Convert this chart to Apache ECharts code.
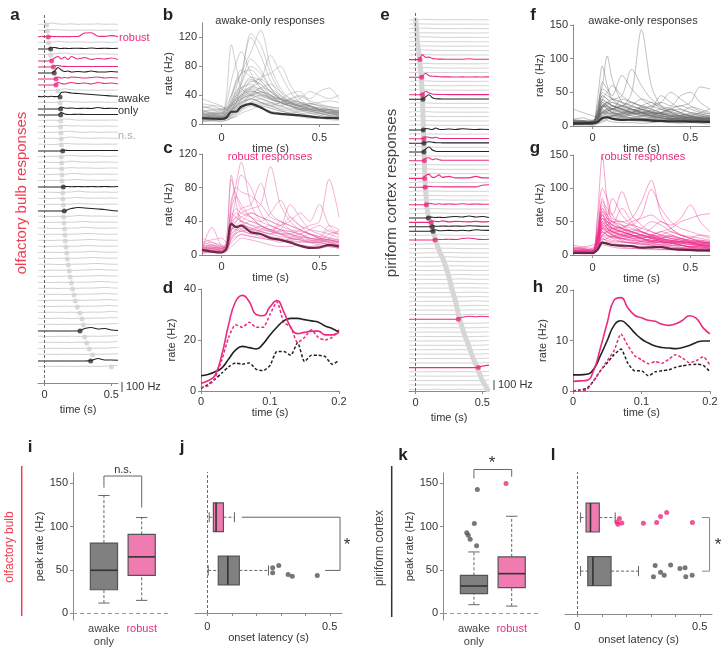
<!DOCTYPE html>
<html><head><meta charset="utf-8">
<script src="https://cdn.jsdelivr.net/npm/echarts@6/dist/echarts.min.js"></script>
<style>html,body{margin:0;padding:0;background:#fff}#c{width:728px;height:652px}</style>
</head><body><div id="c"></div>
<script>
// ---------------- DATA ----------------
// panel a (olfactory bulb, stacked responses)
const T_AG = [-0.05,0,0.05,0.1,0.15,0.2,0.25,0.3,0.35,0.4,0.45,0.5,0.55];
const T_AC = [-0.05,-0.025,0,0.025,0.05,0.075,0.1,0.125,0.15,0.175,0.2,0.25,0.3,0.35,0.4,0.45,0.5,0.55];
const A_GRAY_ROWS = [0,1,3,5,11,13,16,17,18,19,20,22,23,24,25,26,28,29,30,32,33,34,35,36,37,38,39,40,41,42,43,44,45,46,47,48,49,50,52,53,54,55,57];
const A_GRAY_LAT = [0.015,0.02,0.03,0.045,0.1,0.115,0.12,0.12,0.122,0.123,0.125,0.125,0.127,0.128,0.13,0.13,0.135,0.137,0.14,0.142,0.145,0.15,0.152,0.155,0.16,0.165,0.17,0.177,0.185,0.192,0.2,0.21,0.22,0.23,0.245,0.265,0.28,0.29,0.3,0.315,0.335,0.36,0.5];
const A_GRAY = [
[5,8,20,10,8,12,6,10,8,12,7,9,6],[6,5,15,12,9,7,10,8,11,6,9,7,8],[4,7,6,18,10,8,12,9,7,10,8,6,9],[7,5,9,15,20,10,8,11,7,9,12,8,6],
[5,6,7,10,22,14,9,8,10,7,9,8,10],[8,6,5,9,18,12,10,7,9,11,8,7,9],[6,7,8,6,20,15,8,10,7,9,8,10,7],[5,8,6,7,16,10,12,8,9,7,10,8,6],
[7,5,7,8,14,18,9,7,10,8,7,9,8],[6,6,8,5,12,20,11,8,7,9,10,7,8],[8,7,5,7,15,12,9,10,8,7,9,8,10],[5,6,7,6,10,16,10,8,9,11,7,8,6],
[7,8,6,5,9,18,12,9,7,8,10,9,7],[6,5,8,7,8,14,10,11,9,7,8,10,8],[8,6,5,8,7,16,13,8,7,10,9,7,9],[5,7,6,6,9,12,15,9,8,7,8,9,7],
[6,8,7,5,8,10,18,12,9,8,10,7,8],[7,5,6,8,6,11,16,10,7,9,8,10,6],[5,6,8,6,7,9,14,12,10,8,7,9,8],[8,7,5,7,6,8,15,13,9,10,8,7,9],
[6,5,7,6,8,7,12,16,10,8,9,8,7],[7,8,6,5,7,9,10,18,12,9,7,10,8],[5,6,8,7,6,8,9,15,14,10,8,7,9],[6,7,5,8,7,6,10,12,16,11,9,8,7],
[8,5,6,7,8,7,8,14,13,10,8,9,8],[5,7,7,6,5,8,9,11,17,12,9,7,8],[7,6,5,8,7,6,8,10,15,13,10,8,9],[6,8,7,5,6,7,9,9,14,15,11,8,7],
[5,6,8,7,8,6,7,10,12,16,12,9,8],[7,5,6,6,7,8,6,9,11,14,13,10,8],[6,7,5,8,6,7,8,8,10,15,14,9,7],[8,6,7,5,7,6,7,9,9,12,16,11,8],
[5,8,6,7,5,8,6,8,10,11,15,12,9],[6,5,7,8,6,7,8,7,9,10,14,13,8],[7,7,5,6,8,6,7,8,8,9,12,15,10],[5,6,8,7,6,8,6,7,9,8,11,16,11],
[8,5,6,8,7,5,8,6,8,10,9,14,12],[6,7,7,5,8,6,7,8,7,9,10,13,14],[7,6,5,7,6,8,6,7,8,7,9,11,15],[5,8,7,6,7,5,8,6,7,8,8,10,16],
[6,5,8,7,5,7,6,8,6,9,7,12,15],[8,7,6,5,8,6,7,5,8,7,8,10,14],[6,6,7,8,6,7,5,8,7,6,8,12,18]
];
const A_COL_ROWS = [2,4,6,7,8,9,10,12,14,15,21,27,31,51,56];
const A_COL_TYPE = ['r','a','r','r','a','r','r','a','a','a','a','a','a','a','a'];
const A_COL_LAT = [0.027,0.045,0.052,0.065,0.072,0.085,0.085,0.115,0.12,0.12,0.135,0.14,0.147,0.265,0.345];
const A_COL = [
[0,8,2,3,6,4,5,3,5,3,5,5,40,42,8,6,14,5],
[0,0,0,0,12,15,8,5,8,5,6,8,5,10,5,8,5,8],
[0,0,0,0,10,30,45,20,40,15,45,20,35,15,25,20,30,15],
[0,0,0,0,0,12,15,8,6,5,5,5,5,5,5,5,5,5],
[0,0,0,0,0,20,55,30,15,20,10,15,10,20,10,10,15,10],
[0,0,0,0,0,0,20,10,15,10,20,15,10,15,20,10,15,10],
[0,0,0,0,0,0,25,15,10,20,25,15,20,10,25,15,20,10],
[6,2,8,3,7,4,5,45,50,45,40,35,30,25,20,15,10,8],
[0,0,0,0,0,0,0,20,10,8,10,5,8,5,15,5,8,5],
[0,0,0,0,0,0,0,25,10,5,5,8,5,5,5,5,5,5],
[0,0,0,0,0,0,0,0,8,5,5,5,5,5,5,5,5,5],
[0,0,0,0,0,0,0,0,5,5,3,5,3,5,3,5,3,5],
[0,0,0,0,0,0,0,0,-3,15,25,35,30,25,20,15,5,0],
[0,0,0,0,0,0,0,0,0,0,0,0,25,35,20,25,10,5],
[0,0,0,0,0,0,0,0,0,0,0,0,0,5,25,10,10,8]
];

// panel e (piriform cortex, stacked responses)
const T_EG = [-0.05,0.05,0.15,0.25,0.35,0.45,0.55];
const T_EC = [-0.05,0,0.025,0.05,0.075,0.1,0.125,0.15,0.175,0.2,0.25,0.3,0.35,0.4,0.45,0.5,0.55];
const E_LAT = [0,0.003,0.006,0.008,0.01,0.013,0.018,0.022,0.026,0.03,0.033,0.036,0.039,0.042,0.044,0.046,0.048,0.05,0.051,0.052,
0.053,0.054,0.055,0.056,0.057,0.058,0.059,0.06,0.061,0.062,0.063,0.064,0.065,0.066,0.067,0.068,0.07,0.072,0.074,0.076,
0.078,0.08,0.083,0.087,0.092,0.1,0.11,0.12,0.13,0.14,0.15,0.16,0.17,0.185,0.2,0.215,0.225,0.235,0.245,0.255,
0.262,0.27,0.28,0.29,0.3,0.307,0.314,0.32,0.33,0.34,0.35,0.36,0.372,0.385,0.397,0.408,0.42,0.433,0.447,0.46,
0.473,0.487,0.5,0.52,0.54];
const E_COL_ROWS = [9,13,17,18,25,27,28,30,32,36,38,42,45,46,47,48,50,68,79];
const E_COL_TYPE = ['r','r','r','a','a','r','a','a','r','r','r','r','a','r','a','a','r','r','r'];
const E_COL_LAT = [0.032,0.045,0.05,0.055,0.057,0.062,0.062,0.062,0.065,0.067,0.07,0.08,0.095,0.117,0.125,0.13,0.145,0.32,0.47];
const E_COL = [
[0,0,0,50,22,25,10,8,5,5,3,4,3,8,3,4,3],
[0,0,0,10,40,15,10,8,5,3,3,2,3,2,3,2,3],
[0,0,0,5,35,20,8,5,3,3,2,2,2,2,2,2,2],
[0,0,0,0,25,45,15,5,3,2,2,2,2,2,2,2,2],
[0,0,0,0,15,10,5,20,8,5,10,5,12,8,5,8,5],
[0,0,0,0,20,15,8,15,5,3,3,3,3,3,3,3,3],
[0,0,0,0,10,15,10,5,5,3,3,3,3,3,3,3,3],
[0,0,0,0,30,50,20,8,5,5,5,5,5,5,5,5,5],
[0,0,0,0,25,30,10,20,10,5,5,5,5,5,5,5,5],
[0,0,0,0,30,40,10,15,35,10,20,5,5,5,20,5,5],
[0,0,0,0,0,8,5,5,5,3,3,3,3,3,3,20,25],
[0,0,0,0,0,15,10,5,10,5,8,5,10,5,8,5,5],
[0,0,0,0,0,10,8,5,8,5,10,15,10,20,10,15,5],
[0,0,0,0,0,0,15,10,8,15,5,10,8,5,10,5,8],
[0,0,0,0,0,0,10,5,5,8,5,8,5,10,8,5,5],
[0,0,0,0,0,0,5,15,5,5,8,5,10,5,15,10,8],
[0,0,0,0,0,0,0,10,5,5,8,5,15,20,10,5,8],
[0,0,0,0,0,0,0,0,0,0,0,0,20,30,25,30,25],
[0,0,0,0,0,0,0,0,0,0,0,0,0,0,0,15,25]
];
const E_GRAY = [
[2,6,3,2,3,2,3],[3,5,2,3,2,3,2],[2,7,3,2,2,3,2],[3,4,3,3,2,2,3],[2,8,4,2,3,2,2],[3,6,2,3,3,2,3],[2,5,3,2,2,3,2],[3,9,4,3,2,2,3],[2,6,3,2,3,3,2],
[3,7,2,3,2,2,3],[2,8,4,2,3,2,2],[3,5,3,3,2,3,3],
[2,9,3,2,2,2,3],[3,6,4,2,3,3,2],[2,7,3,3,2,2,3],
[3,8,3,2,3,2,2],[2,6,4,3,2,3,3],[3,9,3,2,2,2,2],[2,7,2,3,3,3,3],[3,5,4,2,2,2,2],[2,8,3,3,3,3,3],
[3,6,3,2,2,2,2],[2,9,4,3,3,3,3],[3,7,3,2,2,2,2],
[2,6,4,3,3,3,3],[3,8,3,2,2,2,2],[2,5,5,3,3,3,3],[3,7,4,2,2,2,2],
[2,6,5,3,3,3,3],[3,5,6,2,2,2,2],[2,4,7,3,3,3,3],[3,4,6,2,2,2,2],[2,3,7,3,3,3,3],[3,2,8,4,2,2,2],
[2,3,6,5,3,3,3],[3,2,5,6,2,2,2],[2,3,4,7,3,3,3],[3,2,3,8,2,2,2],[2,3,2,7,4,3,3],[3,2,3,6,5,2,2],[2,3,2,5,6,3,3],[3,2,3,4,7,2,2],
[2,3,2,3,8,3,3],[3,2,3,2,7,4,2],[2,3,2,3,6,5,3],[3,2,3,2,5,6,2],[2,3,2,3,4,7,3],[3,2,3,2,3,8,2],[2,3,2,3,2,7,4],[3,2,3,2,3,6,5],[2,3,2,3,2,5,6],
[3,2,3,2,3,4,7],[2,3,2,3,2,3,8],[3,2,3,2,3,2,7],[2,3,2,3,2,3,6],[3,2,3,2,3,2,8],[2,3,2,3,2,3,7],[3,2,3,2,3,2,6],[2,3,2,3,2,3,8],[3,2,3,2,3,2,7],[2,3,2,3,2,3,6],
[3,2,3,2,3,2,7],[2,3,2,3,2,3,8],[3,2,3,2,3,2,6],[2,3,2,3,2,3,5],[3,2,3,2,3,2,4]
];

// panels b, c, f, g (overlaid responses)
const T_R = [-0.1,-0.05,0,0.025,0.05,0.075,0.1,0.15,0.2,0.25,0.3,0.35,0.4,0.45,0.5,0.55,0.6];
const B_TRACES = [
[10,15,12,40,110,80,50,40,30,25,20,15,18,20,15,12,10],[15,10,8,20,40,60,70,120,95,60,40,30,25,20,18,15,12],
[8,12,10,15,30,50,70,100,130,80,50,35,30,25,20,20,15],[12,10,15,20,25,40,60,125,110,70,45,30,25,25,20,15,18],
[10,8,12,30,60,85,100,70,50,40,30,25,20,18,15,15,12],[8,10,12,15,20,30,40,50,60,95,70,45,30,25,20,18,15],
[15,12,10,12,20,25,35,50,65,70,80,55,35,25,20,15,12],[20,15,18,25,40,55,70,75,60,45,35,30,28,25,22,20,18],
[10,12,8,15,35,60,75,65,50,35,30,25,20,22,18,15,12],[12,15,10,12,25,45,55,80,70,50,35,30,25,20,18,20,15],
[15,20,18,15,20,25,30,35,30,25,30,35,40,35,45,50,35],[20,18,22,20,25,30,35,40,35,30,25,30,35,45,40,35,40],
[10,12,15,12,18,25,30,35,40,38,35,42,45,30,25,20,18],[35,30,25,20,25,30,35,40,45,35,30,25,20,25,20,18,15],
[25,20,15,18,30,45,50,55,45,40,35,30,25,28,25,22,20],[5,8,10,12,20,30,40,45,40,35,30,25,20,18,15,12,10],
[8,5,6,10,15,25,35,60,55,40,30,25,20,15,12,10,8],[12,10,8,8,12,20,30,40,50,55,45,35,30,25,20,15,12],
[5,6,5,8,10,15,20,30,35,30,25,20,15,12,10,8,8],[18,15,20,22,30,40,45,50,45,38,30,28,25,22,20,18,15],
[3,4,3,5,8,12,18,25,22,18,15,12,10,8,8,6,5],[10,8,12,10,15,18,22,30,28,25,20,18,15,15,12,10,10],
[22,25,20,18,25,35,45,65,60,45,35,25,22,20,18,15,18],[6,8,7,9,12,20,25,35,30,28,25,22,20,18,16,15,14],
[14,12,15,14,18,22,28,40,35,30,28,25,22,20,18,16,15],[4,5,6,5,8,10,15,20,25,22,18,15,12,10,8,7,6],
[9,11,8,12,18,30,55,90,75,50,35,28,22,18,15,12,10],[16,14,12,15,22,35,48,58,62,50,40,32,28,25,22,20,18],
[12,14,10,12,20,28,38,52,48,40,32,28,24,22,20,18,16],[7,9,8,10,16,24,32,45,42,36,30,26,22,20,18,16,14],
[18,16,14,16,22,30,42,48,40,34,30,34,38,32,28,24,22],[9,7,10,11,14,22,28,38,44,40,34,28,24,20,18,16,14],
[24,22,20,22,28,34,40,46,42,36,34,32,30,28,26,24,22],[6,7,6,8,12,18,26,34,30,26,22,20,18,16,14,13,12],
[15,13,16,18,26,38,50,62,55,44,36,30,26,24,22,20,18],[11,10,9,12,18,26,34,42,50,46,38,30,26,22,20,18,16],
[28,26,24,22,28,34,38,42,38,34,30,28,26,28,30,32,30],[4,5,4,6,9,14,20,28,26,22,18,15,12,10,9,8,7]
];
const B_MEAN = [8,7.5,7,9,17,17,24,28,23,16,14,13,12,10.5,9,8.5,8];
const C_TRACES = [
[8,10,5,20,95,60,40,30,25,20,18,15,12,10,12,10,8],[5,6,4,15,90,70,55,45,35,30,25,20,18,15,15,12,10],
[10,8,6,10,60,85,110,60,40,35,30,28,25,20,18,15,12],[4,5,3,8,40,70,95,80,50,35,30,25,20,15,12,10,12],
[12,15,10,12,50,45,55,60,85,50,40,35,30,25,20,18,15],[6,8,5,8,30,40,50,55,60,105,60,40,30,25,20,18,15],
[15,12,8,10,45,55,50,45,40,50,65,45,35,30,28,25,20],[5,33,10,8,35,40,45,50,45,40,35,60,45,30,25,20,18],
[8,6,5,6,25,30,35,40,35,30,35,40,50,40,60,35,25],[10,12,8,10,30,35,40,35,30,28,25,25,30,35,40,90,45],
[3,5,4,6,20,25,30,28,25,22,20,18,20,25,22,35,30],[6,4,5,8,55,70,60,45,35,28,25,20,18,15,15,12,10],
[12,10,8,12,25,30,35,32,28,25,40,30,25,20,18,25,28],[4,6,3,5,15,20,25,22,20,18,15,20,25,18,15,20,30],
[8,12,10,8,40,50,45,40,35,30,28,25,22,20,18,15,12],[15,18,20,15,35,45,40,50,45,40,35,30,28,25,22,20,18],
[2,3,2,4,10,15,20,18,15,12,10,10,12,10,8,10,8],[20,15,12,10,65,80,75,70,60,45,40,35,30,25,20,18,15],
[6,8,10,8,20,28,32,30,28,25,30,45,35,25,20,30,22],[10,5,8,6,30,35,30,25,30,35,30,28,25,30,35,28,25],
[5,7,6,7,28,34,36,32,28,25,22,20,18,17,16,15,14],[9,8,7,9,38,44,40,36,32,28,25,22,20,18,17,16,15],
[3,4,5,6,18,22,24,22,20,18,17,16,15,16,18,17,16],[7,9,8,8,32,30,28,30,34,30,26,24,22,20,19,18,17],
[4,3,4,5,22,26,28,25,22,20,18,17,16,15,14,13,12]
];
const C_MEAN = [6,4,3,8,37,33,35,27,25,20,18,15,11,8.5,9,12,10];
const F_TRACES = [
[5,4,3,30,60,104,70,35,25,20,15,12,10,10,8,8,6],[4,6,5,40,89,60,40,30,25,20,18,15,12,10,10,8,8],
[8,5,6,20,45,40,35,30,50,143,60,30,20,15,12,10,8],[3,4,3,25,55,50,40,45,84,60,40,30,25,20,15,12,10],
[6,8,5,20,65,55,45,75,55,40,30,25,20,18,15,12,10],[10,8,6,15,40,50,60,45,35,30,28,35,50,40,30,25,20],
[5,7,4,10,30,35,40,35,30,25,30,35,30,45,50,35,25],[4,3,5,8,20,25,30,28,25,20,22,25,28,30,35,58,55],
[25,20,15,12,30,35,30,25,22,20,18,15,12,10,10,12,15],[6,5,4,15,35,30,25,40,35,30,25,20,18,15,15,12,10],
[3,5,4,10,25,35,30,25,20,18,25,45,35,25,20,18,15],[8,6,7,12,30,25,20,18,30,40,35,28,22,18,15,20,25],
[2,3,2,8,20,15,12,10,8,8,10,8,7,6,6,5,5],[4,3,4,6,15,18,20,15,12,10,12,15,12,10,8,10,12],
[7,8,6,10,25,20,18,15,20,25,20,18,15,12,14,15,12],[3,2,3,5,10,12,10,8,8,7,6,8,10,8,7,6,5],
[5,6,5,20,40,35,30,25,20,15,12,10,10,8,8,7,6],[10,12,8,15,30,28,25,30,35,28,22,20,25,30,25,20,18],
[2,2,3,4,8,10,15,12,10,8,10,12,10,8,7,8,6],[6,4,5,15,50,45,40,35,30,25,20,18,15,12,10,10,8],
[4,5,3,8,18,22,25,30,28,25,20,18,22,25,20,18,15],[3,4,4,6,12,15,14,12,18,20,15,12,10,15,18,15,12],
[8,7,9,10,20,18,16,14,12,15,18,20,25,20,15,12,10],[1,2,1,3,6,8,6,5,5,4,5,6,5,4,5,4,3],
[5,3,4,12,35,30,25,22,20,18,15,12,10,12,10,8,8],[3,4,5,6,10,12,15,18,22,28,25,20,18,15,12,14,12],
[6,5,6,18,45,40,30,25,20,30,35,25,20,15,12,10,10],[2,3,2,5,15,20,25,20,15,12,10,8,8,10,12,10,8],
[4,6,4,10,22,25,20,18,25,20,15,20,25,20,28,22,18],[9,7,8,12,28,32,35,30,25,22,20,18,15,12,10,10,12],
[5,6,5,14,32,28,24,20,18,16,14,12,11,10,9,8,8],[3,3,4,8,18,22,26,24,20,18,16,15,14,13,12,11,10],
[7,6,7,16,38,34,30,26,24,22,20,18,16,14,13,12,11],[2,3,3,6,12,14,16,14,12,11,10,9,9,8,8,7,7],
[6,5,5,12,28,30,26,22,20,24,22,18,16,15,14,13,12],[4,4,5,10,22,20,18,16,18,20,18,16,14,16,18,16,14],
[8,7,6,14,30,26,22,20,18,16,15,14,13,12,12,11,10],[3,4,3,9,20,24,20,17,15,14,13,12,11,11,10,10,9]
];
const F_MEAN = [4,4,4.5,6,12,13,11,9,9.5,9.5,8,7.5,7,7,6.5,6.5,6];
const G_TRACES = [
[5,3,4,60,148,80,50,40,30,25,20,18,15,12,10,10,8],[8,6,5,50,100,85,60,45,35,30,25,20,18,15,12,12,10],
[4,5,6,40,80,70,60,95,60,45,35,30,25,20,18,15,12],[10,8,6,30,70,60,50,50,55,80,112,60,40,30,25,20,18],
[6,5,4,35,75,65,55,50,45,60,98,70,50,40,35,30,25],[3,4,3,25,65,60,85,60,45,35,30,28,25,22,20,18,15],
[12,10,8,20,55,50,45,40,50,55,60,50,45,55,75,50,35],[5,6,5,20,50,55,50,45,40,35,30,35,40,50,55,60,62],
[15,12,10,18,45,40,35,30,28,30,40,50,40,30,25,20,18],[3,2,3,25,60,45,40,35,30,25,22,20,18,15,12,10,10],
[8,10,6,22,45,50,40,35,30,25,20,25,30,25,20,22,20],[4,3,5,15,40,35,30,25,28,30,25,20,18,15,12,15,12],
[6,8,5,30,55,45,35,30,25,20,18,15,12,10,10,8,8],[2,3,2,12,35,30,28,25,22,20,18,15,20,25,20,15,12],
[10,12,15,20,40,45,50,40,35,30,28,25,22,20,18,15,15],[3,4,3,18,50,40,30,25,20,18,15,12,10,10,8,8,6],
[5,4,6,15,30,35,32,30,28,25,30,35,30,25,22,20,18],[7,6,5,25,65,55,45,70,50,35,28,22,18,15,12,12,10],
[2,2,3,10,25,20,18,15,12,10,10,8,8,7,6,6,5],[6,5,4,20,45,40,35,30,35,40,50,45,35,30,25,22,20],
[4,6,5,15,35,30,25,20,18,20,25,30,35,30,28,25,22],[9,8,10,25,60,50,40,35,30,25,20,18,15,15,12,12,10],
[3,3,2,8,20,18,15,12,10,10,12,10,9,8,7,7,6],[5,7,6,30,85,60,45,40,35,30,25,22,20,18,15,14,12],
[2,4,3,12,30,35,40,35,30,25,22,20,18,20,25,30,28],[6,5,6,20,40,38,35,30,25,22,20,25,28,22,18,15,14],
[4,3,4,10,22,25,28,22,18,15,18,20,18,15,12,12,10],[11,9,8,22,50,45,40,42,45,40,35,30,28,25,22,20,18],
[3,2,2,6,15,14,12,10,10,9,8,8,8,7,7,6,6],[5,6,4,18,42,35,30,28,32,35,30,25,20,18,16,15,14],
[7,5,6,28,70,55,45,40,35,30,26,22,20,18,16,15,14],[2,3,2,9,28,25,22,20,18,16,14,13,12,11,10,10,9],
[4,5,4,20,48,42,36,32,30,28,26,24,22,20,18,16,15],[6,4,5,16,38,34,30,28,26,24,22,21,20,19,18,17,16],
[3,3,4,12,30,28,26,24,22,21,20,19,18,17,16,15,14],[5,6,5,22,55,46,38,34,30,27,25,23,21,20,19,18,17],
[2,3,2,10,24,22,20,19,18,17,16,15,14,14,13,13,12],[7,6,7,18,42,38,34,36,38,34,30,27,25,23,21,20,19],
[4,4,3,14,34,30,27,25,24,26,28,25,22,20,19,18,17],[6,5,6,24,62,50,42,38,34,30,27,24,22,20,19,18,17]
];
const G_MEAN = [3,3,3,8,18.5,17,15,14,13.5,11,11.5,12,9,8,7.5,7,7];

// panels d, h (mean responses, 0-0.2 s)
const T_D = [0,0.01,0.02,0.03,0.04,0.05,0.06,0.07,0.08,0.09,0.1,0.11,0.12,0.13,0.14,0.15,0.16,0.17,0.18,0.19,0.2];
const D_ROB_SOLID = [3,4,6,14,26,35,37.5,35,30,29.5,33,35.5,31,25,22.5,23,23.5,23.5,22,22,23];
const D_ROB_DASH  = [1.3,2,5,12,21,26,25,27,25,25,30,35,27,25,19,21,24,21,20,21,24];
const D_AWK_SOLID = [6,6.5,7.5,9,12.5,16,17.5,17,16.5,18.5,22,25,27.5,28.5,28.5,28,27.5,27,25.5,24.5,23];
const D_AWK_DASH  = [1,2.5,4.5,7,9.5,11,10.5,11,8.5,8,10,15.5,15.5,14,19,11.5,14,14,13.5,10.5,12];
const H_ROB_SOLID = [1.9,2,2.1,4,8.5,13.5,18,18.5,16.5,15,14.5,14,13.8,13.2,13,13.3,14,14.9,14.4,12.5,11.3];
const H_AWK_SOLID = [3.2,3.2,3.3,4.3,7,10,13,13.9,13,11.5,10.3,9.5,8.9,8.6,8.5,8.4,8.6,9,9.6,9.9,9.9];
const H_ROB_DASH  = [0,0,0.2,2,4,6,8,11.3,9,7,6.2,5.4,5.8,5.5,6.3,7.2,6.5,5.6,6,6.8,5.1];
const H_AWK_DASH  = [0,0.2,0.5,2,4,5.6,7.2,8.3,5.5,4,4,3,3.8,4,4.2,4.7,5,5.2,5.3,5.1,3.8];

// panels i-l (box plots): [position, whiskerLow, Q1, median, Q3, whiskerHigh]
const I_BOX = [[1,11.6,27,49.5,81,136],[2,14.7,43.7,65,91,110.5]];
const K_BOX = [[1,9.7,22.4,31.3,43.7,70.7],[2,8.1,29.4,45.6,65,112]];
const K_OUT_AWAKE = [[1.09,143],[1.01,103.6],[0.81,93],[0.85,90],[0.9,85.5],[1.07,78]];
const K_OUT_ROBUST = [[1.85,150]];
const J_BOX = [[2,0.008,0.025,0.036,0.066,0.111],[1,0.004,0.045,0.084,0.131,0.25]];
const J_OUT_AWAKE = [[0.267,1.05],[0.267,0.956],[0.292,1.094],[0.33,0.925],[0.347,0.893],[0.449,0.906]];
const L_BOX = [[2,0.0135,0.036,0.054,0.09,0.155],[1,0.0135,0.043,0.064,0.138,0.25]];
const L_OUT_ROBUST = [[0.162,1.918],[0.172,1.981],[0.166,1.874],[0.182,1.9],[0.27,1.893],[0.324,1.906],[0.34,2.019],[0.365,2.094],[0.47,1.906]];
const L_OUT_AWAKE = [[0.311,0.893],[0.318,1.107],[0.34,0.981],[0.355,0.925],[0.381,1.113],[0.419,1.05],[0.44,1.063],[0.443,0.893],[0.469,0.925]];
const I_BRACKET = [[1,145],[1,158.5],[2,158.5],[2,122]];
const K_BRACKET = [[1,155.8],[1,166],[2,166],[2,157.7]];
const J_BRACKET = [[0.141,2],[0.542,2],[0.542,1],[0.481,1]];
const L_BRACKET = [[0.509,2],[0.54,2],[0.54,1],[0.509,1]];

// ---------------- STYLE / LAYOUT ----------------
const FONT = 'Liberation Sans, Arial, Helvetica, sans-serif';
const PINK = '#ec2a80';
const BLACK = '#222';
const RED = '#ee3d50';
const ROW_A = 60, ROW_E = 44;   // Hz per stacked row (10 Hz per pixel)

const grids = [
  {left:38, top:13, width:80, height:370},
  {left:202, top:23, width:137, height:101},
  {left:202, top:154, width:137, height:101},
  {left:201, top:289, width:138, height:102},
  {left:409, top:13, width:80, height:378},
  {left:573, top:25, width:137, height:101},
  {left:573, top:155, width:137, height:100},
  {left:573, top:290, width:137, height:101},
  {left:73, top:473, width:97, height:147},
  {left:195, top:472, width:147, height:141},
  {left:443, top:473, width:97, height:147},
  {left:565, top:472, width:147, height:142}
];
const AX = '#8a8a8a';
function xAx(gi, min, max, ticks, labels, o) {
  o = o || {};
  return {
    type:'value', gridIndex:gi, min, max, position:'bottom',
    axisLine:{show:o.noLine?false:true, onZero:false, lineStyle:{color:AX, width:1}},
    axisTick:{show:!o.noLine, length:3, customValues:ticks, lineStyle:{color:AX}},
    axisLabel:{show:true, customValues:labels, margin:o.margin==null?6:o.margin, color:'#333', fontSize:11, fontFamily:FONT,
      formatter:o.fmt, rich:o.rich},
    splitLine:{show:false},
    name:o.name||'', nameLocation:'middle', nameGap:o.nameGap||10,
    nameTextStyle:{color:'#333', fontSize:11, fontFamily:FONT}
  };
}
function yAx(gi, min, max, ticks, o) {
  o = o || {};
  if (o.hide) return {type:'value', gridIndex:gi, min, max, show:false, splitLine:{show:false}};
  return {
    type:'value', gridIndex:gi, min, max,
    axisLine:{show:true, onZero:false, lineStyle:{color:AX, width:1}},
    axisTick:{show:true, length:3, customValues:ticks, lineStyle:{color:AX}},
    axisLabel:{customValues:ticks, margin:5, color:'#333', fontSize:11, fontFamily:FONT},
    splitLine:{show:false},
    name:o.name||'', nameLocation:'middle', nameGap:o.nameGap||24,
    nameTextStyle:{color:'#333', fontSize:11, fontFamily:FONT}
  };
}
const catRich = {a:{color:'#444', fontSize:11, lineHeight:13, fontFamily:FONT}, r:{color:PINK, fontSize:11, lineHeight:13, fontFamily:FONT}};
const catFmt = v => v === 1 ? '{a|awake}\n{a|only}' : '{r|robust}';
const xAxes = [
  xAx(0,-0.05,0.55,[0,0.5],[0,0.5],{name:'time (s)', nameGap:20, margin:6}),
  xAx(1,-0.1,0.6,[0,0.5],[0,0.5],{name:'time (s)', nameGap:8, margin:8}),
  xAx(2,-0.1,0.6,[0,0.5],[0,0.5],{name:'time (s)', nameGap:6, margin:6}),
  xAx(3,0,0.2,[0,0.1,0.2],[0,0.1,0.2],{name:'time (s)', nameGap:15, margin:5}),
  xAx(4,-0.05,0.55,[0,0.5],[0,0.5],{name:'time (s)', nameGap:18, margin:6}),
  xAx(5,-0.1,0.6,[0,0.5],[0,0.5],{name:'time (s)', nameGap:6, margin:6}),
  xAx(6,-0.1,0.6,[0,0.5],[0,0.5],{name:'time (s)', nameGap:7, margin:7}),
  xAx(7,0,0.2,[0,0.1,0.2],[0,0.1,0.2],{name:'time (s)', nameGap:15, margin:5}),
  xAx(8,0.18,2.75,[],[1,2],{noLine:true, margin:2, fmt:catFmt, rich:catRich}),
  xAx(9,-0.05,0.55,[0,0.1,0.2,0.3,0.4,0.5],[0,0.5],{name:'onset latency (s)', nameGap:19, margin:8}),
  xAx(10,0.18,2.75,[],[1,2],{noLine:true, margin:2, fmt:catFmt, rich:catRich}),
  xAx(11,-0.05,0.55,[0,0.1,0.2,0.3,0.4,0.5],[0,0.5],{name:'onset latency (s)', nameGap:20, margin:7})
];
const yAxes = [
  yAx(0,-3580,120,[],{hide:true}),
  yAx(1,0,140,[0,40,80,120],{name:'rate (Hz)', nameGap:23}),
  yAx(2,0,120,[0,40,80,120],{name:'rate (Hz)', nameGap:24}),
  yAx(3,0,40,[0,20,40],{name:'rate (Hz)', nameGap:24}),
  yAx(4,-3710,70,[],{hide:true}),
  yAx(5,0,150,[0,50,100,150],{name:'rate (Hz)', nameGap:25}),
  yAx(6,0,150,[0,50,100,150],{name:'rate (Hz)', nameGap:25}),
  yAx(7,0,20,[0,10,20],{name:'rate (Hz)', nameGap:25}),
  yAx(8,-8,162,[0,50,100,150],{name:'peak rate (Hz)', nameGap:28}),
  yAx(9,0.2,2.85,[],{hide:true}),
  yAx(10,-8,162,[0,50,100,150],{name:'peak rate (Hz)', nameGap:28}),
  yAx(11,0.2,2.85,[],{hide:true})
];

// ---------------- SERIES ----------------
const series = [];
const zip = (T, V, off) => T.map((t,k)=>[t, V[k] + (off||0)]);
function addLine(gi, data, color, width, z, extra) {
  series.push(Object.assign({type:'line', xAxisIndex:gi, yAxisIndex:gi, data, symbol:'none', showSymbol:false,
    smooth:0.3, lineStyle:{color, width}, z:z||2, silent:true, animation:false}, extra||{}));
}
function addDots(gi, data, color, size, z, extra) {
  series.push(Object.assign({type:'scatter', xAxisIndex:gi, yAxisIndex:gi, data, symbolSize:size,
    itemStyle:{color}, z:z||5, silent:true, animation:false, clip:false}, extra||{}));
}
const vZeroLine = {silent:true, symbol:'none', label:{show:false}, animation:false,
  lineStyle:{color:'#6a6a6a', type:[3,2], width:1}, data:[{xAxis:0}]};
const hZeroLine = {silent:true, symbol:'none', label:{show:false}, animation:false,
  lineStyle:{color:'#9a9a9a', type:[4,3], width:1}, data:[{yAxis:0}]};
const pick = (rows, lat, types, off, want) =>
  rows.map((r,j)=>[lat[j], -r*off, types[j]]).filter(d=>d[2]===want).map(d=>[d[0],d[1]]);

// panel a
A_GRAY_ROWS.forEach((r,j)=> addLine(0, zip(T_AG, A_GRAY[j], -r*ROW_A), '#c4c4c4', 0.8, 1,
  j===0 ? {markLine:vZeroLine} : {}));
addDots(0, A_GRAY_ROWS.map((r,j)=>[A_GRAY_LAT[j], -r*ROW_A]), '#cfcfcf', 5, 2);
A_COL_ROWS.forEach((r,j)=> addLine(0, zip(T_AC, A_COL[j], -r*ROW_A), A_COL_TYPE[j]==='r'?PINK:BLACK, 1.1, 3));
addDots(0, pick(A_COL_ROWS, A_COL_LAT, A_COL_TYPE, ROW_A, 'r'), PINK, 5, 6);
addDots(0, pick(A_COL_ROWS, A_COL_LAT, A_COL_TYPE, ROW_A, 'a'), '#333', 5, 6);

// panel e
const E_GRAY_ROWS = [];
for (let r=0; r<E_LAT.length; r++) if (E_COL_ROWS.indexOf(r) < 0) E_GRAY_ROWS.push(r);
E_GRAY_ROWS.forEach((r,j)=> addLine(4, zip(T_EG, E_GRAY[j], -r*ROW_E), '#c8c8c8', 0.8, 1,
  j===0 ? {markLine:vZeroLine} : {}));
addLine(4, E_LAT.map((t,r)=>[t, -r*ROW_E]), '#d6d6d6', 5, 2, {smooth:false, lineStyle:{color:'#d6d6d6', width:5, cap:'round', join:'round'}});
E_COL_ROWS.forEach((r,j)=> addLine(4, zip(T_EC, E_COL[j], -r*ROW_E), E_COL_TYPE[j]==='r'?PINK:BLACK, 1.1, 3));
addDots(4, pick(E_COL_ROWS, E_COL_LAT, E_COL_TYPE, ROW_E, 'r'), PINK, 5, 6);
addDots(4, pick(E_COL_ROWS, E_COL_LAT, E_COL_TYPE, ROW_E, 'a'), '#333', 5, 6);

// panels b, c, f, g
B_TRACES.forEach(v=> addLine(1, zip(T_R, v), 'rgba(140,140,140,0.5)', 0.8, 1));
addLine(1, zip(T_R, B_MEAN), '#363636', 2.2, 3);
C_TRACES.forEach(v=> addLine(2, zip(T_R, v), 'rgba(228,95,165,0.6)', 0.8, 1));
addLine(2, zip(T_R, C_MEAN), '#6e2a48', 2.2, 3);
F_TRACES.forEach(v=> addLine(5, zip(T_R, v), 'rgba(100,100,100,0.5)', 0.8, 1));
addLine(5, zip(T_R, F_MEAN), '#333', 2.2, 3);
G_TRACES.forEach(v=> addLine(6, zip(T_R, v), 'rgba(236,45,140,0.55)', 0.8, 1));
addLine(6, zip(T_R, G_MEAN), '#5e2a45', 2.2, 3);

// panels d, h
const dash = [3,2];
addLine(3, zip(T_D, D_AWK_DASH), BLACK, 1.5, 2, {smooth:0.2, lineStyle:{color:BLACK, width:1.5, type:dash}});
addLine(3, zip(T_D, D_ROB_DASH), PINK, 1.5, 2, {smooth:0.2, lineStyle:{color:PINK, width:1.5, type:dash}});
addLine(3, zip(T_D, D_AWK_SOLID), BLACK, 1.6, 3, {smooth:0.5});
addLine(3, zip(T_D, D_ROB_SOLID), PINK, 1.6, 3, {smooth:0.5});
addLine(7, zip(T_D, H_AWK_DASH), BLACK, 1.5, 2, {smooth:0.2, lineStyle:{color:BLACK, width:1.5, type:dash}});
addLine(7, zip(T_D, H_ROB_DASH), PINK, 1.5, 2, {smooth:0.2, lineStyle:{color:PINK, width:1.5, type:dash}});
addLine(7, zip(T_D, H_AWK_SOLID), BLACK, 1.6, 3, {smooth:0.5});
addLine(7, zip(T_D, H_ROB_SOLID), PINK, 1.6, 3, {smooth:0.5});

// box plots
const FILL_AWAKE = '#808080', FILL_ROBUST = '#f07bb0';
function boxRender(horizontal, halfBox, halfCap) {
  return function(params, api) {
    const pos = api.value(0);
    const vals = [1,2,3,4,5].map(i=>api.value(i));
    const c = v => horizontal ? api.coord([v, pos]) : api.coord([pos, v]);
    const P = vals.map(c);
    const sz = horizontal ? api.size([0, halfBox])[1] : api.size([halfBox, 0])[0];
    const cz = horizontal ? api.size([0, halfCap])[1] : api.size([halfCap, 0])[0];
    const fill = pos === 1 ? FILL_AWAKE : FILL_ROBUST;
    const wstyle = {stroke:'#666', lineWidth:1, lineDash:[3,2]};
    const cstyle = {stroke:'#666', lineWidth:1};
    const ch = [];
    if (!horizontal) {
      const x = P[2][0];
      ch.push({type:'line', shape:{x1:x,y1:P[0][1],x2:x,y2:P[1][1]}, style:wstyle});
      ch.push({type:'line', shape:{x1:x,y1:P[3][1],x2:x,y2:P[4][1]}, style:wstyle});
      ch.push({type:'line', shape:{x1:x-cz,y1:P[0][1],x2:x+cz,y2:P[0][1]}, style:cstyle});
      ch.push({type:'line', shape:{x1:x-cz,y1:P[4][1],x2:x+cz,y2:P[4][1]}, style:cstyle});
      ch.push({type:'rect', shape:{x:x-sz,y:P[3][1],width:2*sz,height:P[1][1]-P[3][1]}, style:{fill, stroke:'#555', lineWidth:1.2}});
      ch.push({type:'line', shape:{x1:x-sz,y1:P[2][1],x2:x+sz,y2:P[2][1]}, style:{stroke:'#333', lineWidth:1.6}});
    } else {
      const y = P[2][1];
      ch.push({type:'line', shape:{x1:P[0][0],y1:y,x2:P[1][0],y2:y}, style:wstyle});
      ch.push({type:'line', shape:{x1:P[3][0],y1:y,x2:P[4][0],y2:y}, style:wstyle});
      ch.push({type:'line', shape:{x1:P[0][0],y1:y-cz,x2:P[0][0],y2:y+cz}, style:cstyle});
      ch.push({type:'line', shape:{x1:P[4][0],y1:y-cz,x2:P[4][0],y2:y+cz}, style:cstyle});
      ch.push({type:'rect', shape:{x:P[1][0],y:y-sz,width:P[3][0]-P[1][0],height:2*sz}, style:{fill, stroke:'#555', lineWidth:1.2}});
      ch.push({type:'line', shape:{x1:P[2][0],y1:y-sz,x2:P[2][0],y2:y+sz}, style:{stroke:'#333', lineWidth:1.6}});
    }
    return {type:'group', children:ch};
  };
}
function addBox(gi, data, horizontal) {
  series.push({type:'custom', xAxisIndex:gi, yAxisIndex:gi, data, silent:true, animation:false, z:3,
    renderItem: horizontal ? boxRender(true, 0.27, 0.095) : boxRender(false, 0.36, 0.15),
    encode: horizontal ? {x:[1,2,3,4,5], y:0} : {x:0, y:[1,2,3,4,5]}});
}
function addBracket(gi, data, color) {
  addLine(gi, data, color, 1, 4, {smooth:false, clip:false, lineStyle:{color, width:1}});
}
// i
addLine(8, [[0.18,0],[2.75,0]], 'rgba(0,0,0,0)', 0, 1, {smooth:false, markLine:hZeroLine});
addBox(8, I_BOX, false);
addBracket(8, I_BRACKET, '#666');
// k
addLine(10, [[0.18,0],[2.75,0]], 'rgba(0,0,0,0)', 0, 1, {smooth:false, markLine:hZeroLine});
addBox(10, K_BOX, false);
addDots(10, K_OUT_AWAKE, '#555', 5, 6);
addDots(10, K_OUT_ROBUST, PINK, 5, 6);
addBracket(10, K_BRACKET, '#666');
// j
addLine(9, [[0,0.2],[0,2.85]], 'rgba(0,0,0,0)', 0, 1, {smooth:false, markLine:vZeroLine});
addBox(9, J_BOX, true);
addDots(9, J_OUT_AWAKE, '#555', 5, 6);
addBracket(9, J_BRACKET, '#666');
// l
addLine(11, [[0,0.2],[0,2.85]], 'rgba(0,0,0,0)', 0, 1, {smooth:false, markLine:vZeroLine});
addBox(11, L_BOX, true);
addDots(11, L_OUT_ROBUST, PINK, 5, 6);
addDots(11, L_OUT_AWAKE, '#555', 5, 6);
addBracket(11, L_BRACKET, '#888');

// ---------------- TEXT / ANNOTATIONS ----------------
function txt(x, y, s, o) {
  o = o || {};
  return {type:'text', x, y, rotation:o.rot||0, silent:true, z:100,
    style:{text:s, fill:o.color||'#333', font:(o.weight||'normal')+' '+(o.size||11)+'px '+FONT,
      align:o.align||'center', verticalAlign:'middle', textAlign:o.align||'center', textVerticalAlign:'middle'}};
}
function seg(x1,y1,x2,y2,color,w) {
  return {type:'line', silent:true, z:100, shape:{x1,y1,x2,y2}, style:{stroke:color, lineWidth:w||1}};
}
const L = {size:17, weight:'bold', color:'#222'};
const graphic = [
  txt(15,15,'a',L), txt(168,15,'b',L), txt(168,148,'c',L), txt(168,288,'d',L),
  txt(385,15,'e',L), txt(533,15,'f',L), txt(535,148,'g',L), txt(538,287,'h',L),
  txt(30,447,'i',L), txt(182,447,'j',L), txt(403,455,'k',L), txt(553,455,'l',L),
  txt(270,21,'awake-only responses'), txt(270,157,'robust responses',{color:PINK}),
  txt(643,21,'awake-only responses'), txt(643,157,'robust responses',{color:PINK}),
  txt(119,38,'robust',{align:'left', color:PINK}),
  txt(118,99,'awake',{align:'left'}), txt(118,111,'only',{align:'left'}),
  txt(118,136,'n.s.',{align:'left', color:'#aaa'}),
  seg(122,382,122,392,'#444',1), txt(126,387,'100 Hz',{align:'left'}),
  seg(494,380,494,390,'#444',1), txt(498,385,'100 Hz',{align:'left'}),
  txt(22,193,'olfactory bulb responses',{rot:Math.PI/2, color:RED, size:15}),
  txt(392,193,'piriform cortex responses',{rot:Math.PI/2, color:'#444', size:15}),
  seg(21.7,466,21.7,616,RED,1.5), txt(10,547,'olfactory bulb',{rot:Math.PI/2, color:RED, size:12}),
  seg(391.7,466,391.7,617,'#333',1.5), txt(380,548,'piriform cortex',{rot:Math.PI/2, color:'#444', size:12}),
  txt(123,470,'n.s.'), txt(492,463,'*',{size:17}), txt(347,545,'*',{size:17}), txt(718,545,'*',{size:17})
];

const chart = echarts.init(document.getElementById('c'), null, {renderer:'canvas'});
chart.setOption({
  animation:false, backgroundColor:'#fff',
  grid: grids, xAxis: xAxes, yAxis: yAxes, series, graphic
});
</script></body></html>
